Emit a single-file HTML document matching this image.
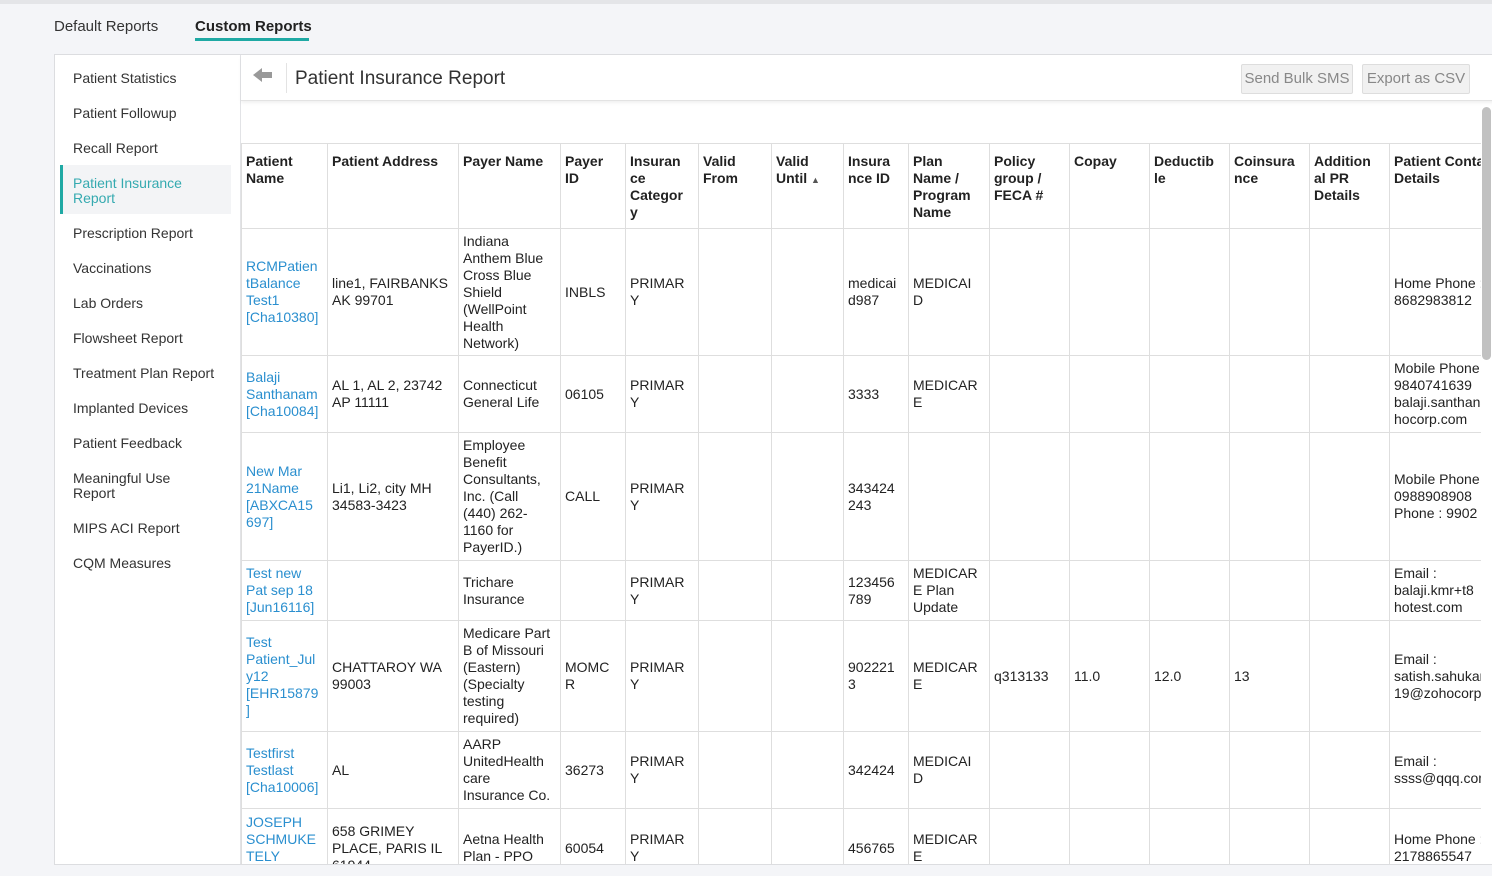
<!DOCTYPE html>
<html><head><meta charset="utf-8"><style>
*{box-sizing:border-box;margin:0;padding:0}
body{width:1492px;height:876px;background:#f4f5f8;font-family:"Liberation Sans",sans-serif;color:#222;position:relative;overflow:hidden;font-size:14px}
.topline{position:absolute;left:0;top:0;width:1492px;height:4px;background:#e4e5e8}
.tab{position:absolute;top:18px;font-size:15px;color:#333}
.panel{position:absolute;left:54px;top:54px;width:1440px;height:811px;background:#fff;border:1px solid #dcdde0;overflow:hidden}
.side{position:absolute;left:0;top:0;width:186px;height:811px;border-right:1px solid #e2e3e6}
.side div{position:absolute;left:18px;font-size:14px;color:#333;line-height:15px}
.hdr{position:absolute;left:186px;top:0;width:1254px;height:46px;border-bottom:1px solid #e3e3e3;box-shadow:0 2px 3px rgba(0,0,0,.06)}
.btn{position:absolute;top:9px;height:30px;background:#f1f1f1;border:1px solid #ddd;border-radius:2px;color:#888;font-size:15px;line-height:28px;text-align:center}
table{position:absolute;left:186px;top:88px;border-collapse:collapse;table-layout:fixed;width:1248px}
td,th{border:1px solid #dedede;padding:0 4px;font-size:14px;line-height:17px;white-space:nowrap;overflow:hidden;vertical-align:middle;text-align:left}
th{vertical-align:top;padding-top:9px;font-weight:bold;color:#222}
a{color:#2a8fcf;text-decoration:none}
</style></head><body>
<div class="topline"></div>
<div class="tab" style="left:54px">Default Reports</div>
<div class="tab" style="left:195px;font-weight:bold;color:#222">Custom Reports</div>
<div style="position:absolute;left:195px;top:38px;width:114px;height:3px;background:#1fa9a4"></div>
<div class="panel">
 <div class="side">
  <div style="top:16px">Patient Statistics</div>
  <div style="top:51px">Patient Followup</div>
  <div style="top:86px">Recall Report</div>
  <div style="left:5px;top:110px;width:171px;height:49px;background:#f3f4f6;border-left:3px solid #1fa9a4"></div>
  <div style="top:121px;color:#35aab0">Patient Insurance<br>Report</div>
  <div style="top:171px">Prescription Report</div>
  <div style="top:206px">Vaccinations</div>
  <div style="top:241px">Lab Orders</div>
  <div style="top:276px">Flowsheet Report</div>
  <div style="top:311px">Treatment Plan Report</div>
  <div style="top:346px">Implanted Devices</div>
  <div style="top:381px">Patient Feedback</div>
  <div style="top:416px">Meaningful Use<br>Report</div>
  <div style="top:466px">MIPS ACI Report</div>
  <div style="top:501px">CQM Measures</div>
 </div>
 <div class="hdr">
  <div style="position:absolute;left:12px;top:13px;width:0;height:0;border-top:7px solid transparent;border-bottom:7px solid transparent;border-right:9px solid #999"></div>
  <div style="position:absolute;left:20px;top:17px;width:11px;height:6px;background:#999"></div>
  <div style="position:absolute;left:45px;top:8px;width:1px;height:30px;background:#e3e3e3"></div>
  <div style="position:absolute;left:54px;top:13px;font-size:19px;color:#333">Patient Insurance Report</div>
  <div class="btn" style="left:1000px;width:112px">Send Bulk SMS</div>
  <div class="btn" style="left:1121px;width:108px">Export as CSV</div>
 </div>
 <table>
 <colgroup><col style="width:86px"><col style="width:131px"><col style="width:102px"><col style="width:65px"><col style="width:73px"><col style="width:73px"><col style="width:72px"><col style="width:65px"><col style="width:81px"><col style="width:80px"><col style="width:80px"><col style="width:80px"><col style="width:80px"><col style="width:80px"><col style="width:100px"></colgroup>
 <tr style="height:85px"><th>Patient<br>Name</th><th>Patient Address</th><th>Payer Name</th><th>Payer<br>ID</th><th>Insuran<br>ce<br>Categor<br>y</th><th>Valid<br>From</th><th>Valid<br>Until <span style="font-size:9px;color:#555">▲</span></th><th>Insura<br>nce ID</th><th>Plan<br>Name /<br>Program<br>Name</th><th>Policy<br>group /<br>FECA #</th><th>Copay</th><th>Deductib<br>le</th><th>Coinsura<br>nce</th><th>Addition<br>al PR<br>Details</th><th>Patient Contact<br>Details</th></tr>
 <tr style="height:127px"><td><a>RCMPatien<br>tBalance<br>Test1<br>[Cha10380]</a></td><td>line1, FAIRBANKS<br>AK 99701</td><td>Indiana<br>Anthem Blue<br>Cross Blue<br>Shield<br>(WellPoint<br>Health<br>Network)</td><td>INBLS</td><td>PRIMAR<br>Y</td><td></td><td></td><td>medicai<br>d987</td><td>MEDICAI<br>D</td><td></td><td></td><td></td><td></td><td></td><td>Home Phone :<br>8682983812</td></tr>
 <tr style="height:77px"><td><a>Balaji<br>Santhanam<br>[Cha10084]</a></td><td>AL 1, AL 2, 23742<br>AP 11111</td><td>Connecticut<br>General Life</td><td>06105</td><td>PRIMAR<br>Y</td><td></td><td></td><td>3333</td><td>MEDICAR<br>E</td><td></td><td></td><td></td><td></td><td></td><td>Mobile Phone :<br>9840741639<br>balaji.santhanam@zo<br>hocorp.com</td></tr>
 <tr style="height:128px"><td><a>New Mar<br>21Name<br>[ABXCA15<br>697]</a></td><td>Li1, Li2, city MH<br>34583-3423</td><td>Employee<br>Benefit<br>Consultants,<br>Inc. (Call<br>(440) 262-<br>1160 for<br>PayerID.)</td><td>CALL</td><td>PRIMAR<br>Y</td><td></td><td></td><td>343424<br>243</td><td></td><td></td><td></td><td></td><td></td><td></td><td>Mobile Phone :<br>0988908908<br>Phone : 9902</td></tr>
 <tr style="height:60px"><td><a>Test new<br>Pat sep 18<br>[Jun16116]</a></td><td></td><td>Trichare<br>Insurance</td><td></td><td>PRIMAR<br>Y</td><td></td><td></td><td>123456<br>789</td><td>MEDICAR<br>E Plan<br>Update</td><td></td><td></td><td></td><td></td><td></td><td>Email :<br>balaji.kmr+t8<br>hotest.com</td></tr>
 <tr style="height:111px"><td><a>Test<br>Patient_Jul<br>y12<br>[EHR15879<br>]</a></td><td>CHATTAROY WA<br>99003</td><td>Medicare Part<br>B of Missouri<br>(Eastern)<br>(Specialty<br>testing<br>required)</td><td>MOMC<br>R</td><td>PRIMAR<br>Y</td><td></td><td></td><td>902221<br>3</td><td>MEDICAR<br>E</td><td>q313133</td><td>11.0</td><td>12.0</td><td>13</td><td></td><td>Email :<br>satish.sahukar<br>19@zohocorp</td></tr>
 <tr style="height:77px"><td><a>Testfirst<br>Testlast<br>[Cha10006]</a></td><td>AL</td><td>AARP<br>UnitedHealth<br>care<br>Insurance Co.</td><td>36273</td><td>PRIMAR<br>Y</td><td></td><td></td><td>342424</td><td>MEDICAI<br>D</td><td></td><td></td><td></td><td></td><td></td><td>Email :<br>ssss@qqq.com</td></tr>
 <tr style="height:80px"><td style="vertical-align:top;padding-top:5px"><a>JOSEPH<br>SCHMUKE<br>TELY</a></td><td style="vertical-align:top;padding-top:14px">658 GRIMEY<br>PLACE, PARIS IL<br>61944</td><td style="vertical-align:top;padding-top:22px">Aetna Health<br>Plan - PPO</td><td style="vertical-align:top;padding-top:31px">60054</td><td style="vertical-align:top;padding-top:22px">PRIMAR<br>Y</td><td></td><td></td><td style="vertical-align:top;padding-top:31px">456765</td><td style="vertical-align:top;padding-top:22px">MEDICAR<br>E</td><td></td><td></td><td></td><td></td><td></td><td style="vertical-align:top;padding-top:22px">Home Phone :<br>2178865547</td></tr>
 </table>
 <div style="position:absolute;left:1426px;top:52px;width:14px;height:760px;background:#fff"></div>
 <div style="position:absolute;left:1427px;top:52px;width:9px;height:253px;background:#c1c1c1;border-radius:5px"></div>
</div>
</body></html>
